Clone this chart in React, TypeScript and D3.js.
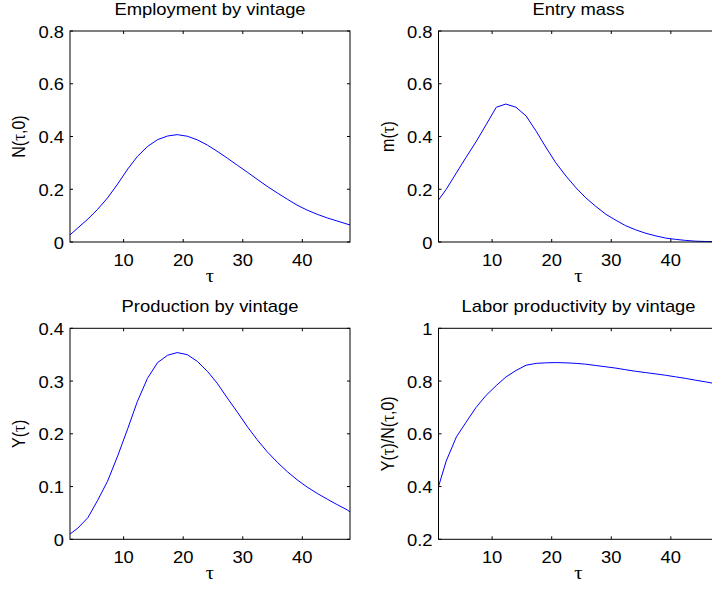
import React from 'react';
import * as d3 from 'd3';

const tau = [1, 2.3, 4.0, 5.6, 7.3, 9.0, 10.7, 12.3, 14.0, 15.7, 17.4, 19.0, 20.7, 22.4, 24.1, 25.7, 27.4, 29.1, 30.8, 32.4, 34.1, 35.8, 37.5, 39.1, 40.8, 42.5, 44.2, 45.8, 47.5, 48];

const employment = [0.027, 0.053, 0.087, 0.123, 0.167, 0.220, 0.277, 0.324, 0.362, 0.388, 0.402, 0.407, 0.401, 0.387, 0.367, 0.344, 0.318, 0.291, 0.264, 0.238, 0.211, 0.186, 0.162, 0.140, 0.121, 0.105, 0.091, 0.080, 0.068, 0.065];

const entryMass = [0.159, 0.200, 0.262, 0.320, 0.380, 0.445, 0.511, 0.523, 0.511, 0.478, 0.420, 0.360, 0.300, 0.250, 0.205, 0.168, 0.135, 0.105, 0.082, 0.062, 0.046, 0.033, 0.023, 0.015, 0.010, 0.006, 0.003, 0.002, 0.001, 0.001];

const production = [0.010, 0.021, 0.041, 0.073, 0.110, 0.158, 0.210, 0.261, 0.305, 0.335, 0.349, 0.354, 0.350, 0.337, 0.318, 0.296, 0.268, 0.241, 0.213, 0.189, 0.166, 0.146, 0.128, 0.113, 0.099, 0.087, 0.076, 0.066, 0.056, 0.052];

const productivity = [0.400, 0.497, 0.588, 0.643, 0.700, 0.746, 0.783, 0.815, 0.840, 0.860, 0.867, 0.869, 0.870, 0.869, 0.867, 0.864, 0.859, 0.854, 0.849, 0.843, 0.837, 0.832, 0.827, 0.822, 0.816, 0.810, 0.803, 0.797, 0.790, 0.788];

const xDomain: [number, number] = [1, 48];
const xTicks = [10, 20, 30, 40];
const yTicksEmployment = [0, 0.2, 0.4, 0.6, 0.8];
const yTicksEntry = [0, 0.2, 0.4, 0.6, 0.8];
const yTicksProduction = [0, 0.1, 0.2, 0.3, 0.4];
const yTicksProductivity = [0.2, 0.4, 0.6, 0.8, 1];

const titles = ['Employment by vintage', 'Entry mass', 'Production by vintage', 'Labor productivity by vintage'];
const yLabels = ['N(\u03c4,0)', 'm(\u03c4)', 'Y(\u03c4)', 'Y(\u03c4)/N(\u03c4,0)'];
const xLabel = '\u03c4';

const FONT = '"Liberation Sans", Arial, Helvetica, sans-serif';
const SERIF = '"Liberation Serif", "Times New Roman", serif';
const FS = 16;
const SX = 1.15;
const TICK = 3;

type PanelProps = {
  left: number; top: number; width: number; height: number;
  yTicks: number[]; values: number[]; title: string; ylabel: string;
};

const fmt = (v: number) => String(+v.toFixed(1));

// render tau glyphs with a serif (Symbol-like) face
function withTau(s: string) {
  return s.split(/(\u03c4)/).map((p, i) =>
    p === '\u03c4' ? <tspan key={i} fontFamily={SERIF} fontSize={FS + 1}>{p}</tspan> : <tspan key={i}>{p}</tspan>
  );
}

function Panel({ left, top, width, height, yTicks, values, title, ylabel }: PanelProps) {
  const x = d3.scaleLinear().domain(xDomain).range([left, left + width]);
  const y = d3.scaleLinear().domain([yTicks[0], yTicks[yTicks.length - 1]]).range([top + height, top]);
  const line = d3.line<number>().x((_, i) => x(tau[i])).y((d) => y(d));
  const bottom = top + height;
  const right = left + width;
  return (
    <g>
      <text transform={`translate(${left + width / 2},${top - 16}) scale(${SX},1)`} textAnchor="middle" fontSize={FS} fontFamily={FONT} fill="#000">{title}</text>
      <path d={line(values) || ''} fill="none" stroke="#0000ff" strokeWidth={1} />
      <rect x={left} y={top} width={width} height={height} fill="none" stroke="#000" strokeWidth={1} />
      {xTicks.map((t) => (
        <g key={'x' + t}>
          <line x1={x(t)} x2={x(t)} y1={bottom} y2={bottom - TICK} stroke="#000" />
          <line x1={x(t)} x2={x(t)} y1={top} y2={top + TICK} stroke="#000" />
          <text transform={`translate(${x(t)},${bottom + 24}) scale(${SX},1)`} textAnchor="middle" fontSize={FS} fontFamily={FONT} fill="#000">{t}</text>
        </g>
      ))}
      {yTicks.map((t) => (
        <g key={'y' + t}>
          <line x1={left} x2={left + TICK} y1={y(t)} y2={y(t)} stroke="#000" />
          <line x1={right} x2={right - TICK} y1={y(t)} y2={y(t)} stroke="#000" />
          <text transform={`translate(${left - 6},${y(t) + 6.5}) scale(${SX},1)`} textAnchor="end" fontSize={FS} fontFamily={FONT} fill="#000">{fmt(t)}</text>
        </g>
      ))}
      <text transform={`translate(${left + width / 2},${bottom + 40}) scale(${SX},1)`} textAnchor="middle" fontSize={FS + 2} fontFamily={SERIF} fill="#000">{xLabel}</text>
      <text transform={`translate(${left - 45},${top + height / 2}) rotate(-90) scale(1,${SX})`} textAnchor="middle" fontSize={FS} fontFamily={FONT} fill="#000">{withTau(ylabel)}</text>
    </g>
  );
}

export default function App() {
  const W = 712, H = 590;
  const pw = 280, ph = 211;
  const lefts = [70, 438.5];
  const tops = [31, 328.3];
  const series = [employment, entryMass, production, productivity];
  const ticks = [yTicksEmployment, yTicksEntry, yTicksProduction, yTicksProductivity];
  return (
    <svg width={W} height={H} style={{ position: 'absolute', left: 0, top: 0, background: '#fff' }}>
      <rect x={0} y={0} width={W} height={H} fill="#fff" />
      {series.map((s, i) => (
        <Panel key={i} left={lefts[i % 2]} top={tops[Math.floor(i / 2)]} width={pw} height={ph}
          yTicks={ticks[i]} values={s} title={titles[i]} ylabel={yLabels[i]} />
      ))}
    </svg>
  );
}
